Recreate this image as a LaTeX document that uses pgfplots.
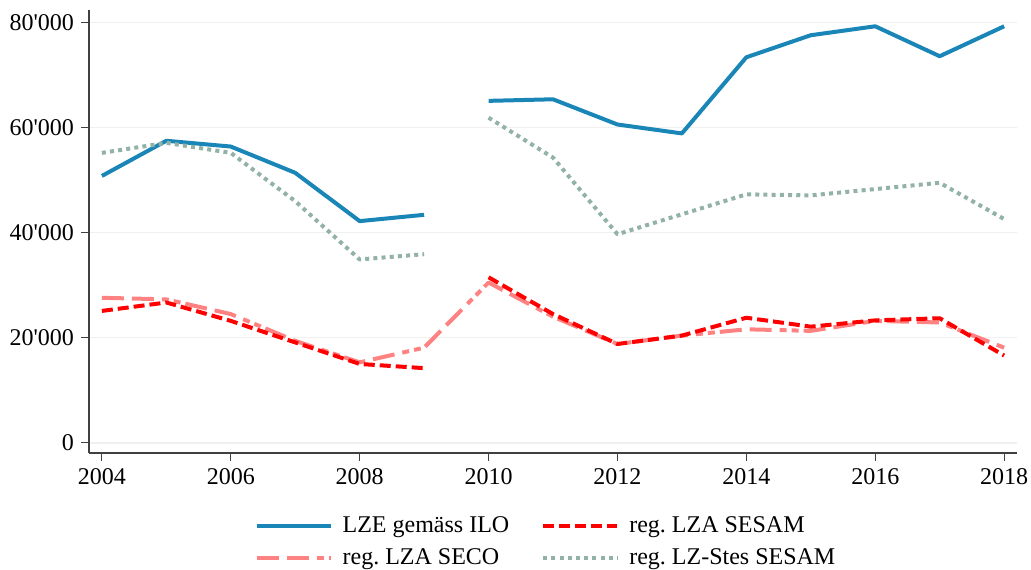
\documentclass[border=0pt]{standalone}
\usepackage{fontspec}
\setmainfont{Liberation Serif}
\usepackage{pgfplots}
\pgfplotsset{compat=1.18}
\frenchspacing

\definecolor{ilo}{RGB}{26,134,184}
\definecolor{sesam}{RGB}{255,0,0}
\definecolor{seco}{RGB}{255,130,130}
\definecolor{stes}{RGB}{146,178,166}

\begin{document}
\begin{tikzpicture}
\begin{axis}[
  scale only axis,
  width=464pt, height=221.5pt,
  xmin=2003.8, xmax=2018.2,
  ymin=-1960, ymax=82400,
  axis lines*=left,
  axis line style={black!75, line width=0.6pt},
  xtick={2004,2006,...,2018},
  ytick={0,20000,40000,60000,80000},
  tick align=outside,
  major tick length=4pt,
  tick style={black!75, line width=0.6pt},
  x tick label style={/pgf/number format/1000 sep={}},
  y tick label style={/pgf/number format/1000 sep={\textquotesingle}},
  /pgf/number format/assume math mode=true,
  scaled y ticks=false,
  ymajorgrids,
  grid style={black!6, line width=0.8pt},
  tick label style={font=\fontsize{12}{14}\selectfont},
  unbounded coords=jump,
  line join=round,
  legend columns=2,
  legend style={draw=none, at={(0.4935,-0.124)}, anchor=north,
    font=\fontsize{12}{14}\selectfont,
    /tikz/every even column/.append style={column sep=14pt},
    nodes={inner sep=2pt}, row sep=2.5pt},
  legend cell align=left,
  legend image code/.code={\draw[#1] (0pt,0pt) -- (37pt,0pt);},
]
\addplot[color=ilo, line width=2pt] coordinates {
(2004,50800) (2005,57500) (2006,56400) (2007,51400) (2008,42200) (2009,43400)
(2009.5,nan)
(2010,65100) (2011,65400) (2012,60600) (2013,58900) (2014,73400) (2015,77600)
(2016,79300) (2017,73600) (2018,79300)};
\addlegendentry{\hspace{3pt}LZE gemäss ILO}

\addplot[color=stes, line width=2pt, dash pattern=on 2pt off 2.1pt, forget plot] coordinates {
(2004,55200) (2005,57100) (2006,55200) (2007,46000) (2008,34900) (2009,35900)
(2009.5,nan)
(2010,61900) (2011,54300) (2012,39700) (2013,43500) (2014,47300) (2015,47100)
(2016,48300) (2017,49500) (2018,42600)};

\addplot[color=seco, line width=2pt, dash pattern=on 11pt off 4pt on 11pt off 4pt on 3.5pt off 2.5pt on 3.5pt off 2.5pt, forget plot] coordinates {
(2004,27600) (2005,27300) (2006,24500) (2007,19400) (2008,15300) (2009,18100)
(2010,30500) (2011,24000) (2012,18800) (2013,20400) (2014,21600) (2015,21300)
(2016,23200) (2017,22900) (2018,18100)};

\addplot[color=sesam, line width=2pt, dash pattern=on 5.5pt off 2.5pt] coordinates {
(2004,25100) (2005,26700) (2006,23200) (2007,19100) (2008,15000) (2009,14200)
(2009.5,nan)
(2010,31500) (2011,24500) (2012,18800) (2013,20400) (2014,23800) (2015,22100)
(2016,23300) (2017,23700) (2018,16600)};
\addlegendentry{\hspace{3pt}reg. LZA SESAM}

\addlegendimage{color=seco, line width=2pt, dash pattern=on 11pt off 4pt on 11pt off 4pt on 3.5pt off 2.5pt on 3.5pt off 2.5pt}
\addlegendentry{\hspace{3pt}reg. LZA SECO}
\addlegendimage{color=stes, line width=2pt, dash pattern=on 2pt off 2.1pt}
\addlegendentry{\hspace{3pt}reg. LZ-Stes SESAM}
\end{axis}
\pgfresetboundingbox
\path[use as bounding box] ([shift={(-44.5pt,-58pt)}]current axis.south west)
  rectangle ([shift={(471pt,226.5pt)}]current axis.south west);
\end{tikzpicture}
\end{document}
